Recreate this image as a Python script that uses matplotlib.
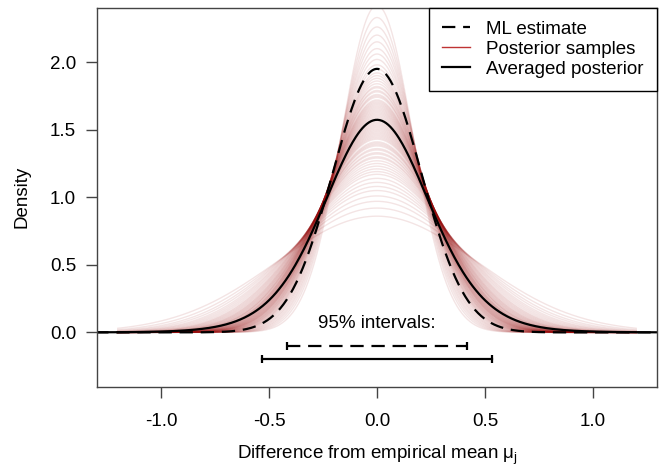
import numpy as np
import matplotlib
matplotlib.use('Agg')
import matplotlib.pyplot as plt

"""Posterior samples of a density around the empirical mean,
compared with the ML estimate and the averaged posterior"""

# peak heights of the posterior sample densities
sample_peaks = [0.86, 0.92, 0.97, 1.01, 1.05, 1.08, 1.11, 1.14, 1.17, 1.19,
                1.21, 1.23, 1.25, 1.27, 1.29, 1.30, 1.32, 1.33, 1.35, 1.36,
                1.38, 1.39, 1.40, 1.41, 1.43, 1.44, 1.45, 1.46, 1.47, 1.48,
                1.49, 1.50, 1.51, 1.52, 1.53, 1.54, 1.55, 1.56, 1.57, 1.58,
                1.59, 1.60, 1.61, 1.62, 1.63, 1.64, 1.65, 1.66, 1.67, 1.68,
                1.69, 1.70, 1.71, 1.72, 1.74, 1.75, 1.76, 1.78, 1.79, 1.81,
                1.82, 1.84, 1.86, 1.88, 1.90, 1.92, 1.95, 1.98, 2.02, 2.06,
                2.10, 2.15, 2.20, 2.26, 2.33, 2.42]
ml_peak = 1.95

# 95% intervals
ml_interval = [-0.415, 0.415]
post_interval = [-0.53, 0.53]

x_ticks = [-1.0, -0.5, 0.0, 0.5, 1.0]
y_ticks = [0.0, 0.5, 1.0, 1.5, 2.0]

plt.rcParams['font.family'] = ['Liberation Sans', 'DejaVu Sans']
FS = 13.5


# normal density with given peak height
def peak_density(x, peak):
    sd = 1 / (peak * np.sqrt(2 * np.pi))
    return peak * np.exp(-0.5 * (x / sd) ** 2)


fig = plt.figure(figsize=(6.62, 4.70), dpi=100)
ax = fig.add_axes([0.1465, 0.1766, 0.846, 0.8074])

xs = np.linspace(-1.2, 1.2, 400)
xw = np.linspace(-1.5, 1.5, 600)

for p in sample_peaks:
    ax.plot(xs, peak_density(xs, p), color=(0.6, 0.05, 0.05), alpha=0.11, lw=1.0)

avg = np.mean([peak_density(xw, p) for p in sample_peaks], axis=0)
ax.plot(xw, avg, color='black', lw=1.6)
ml_line, = ax.plot(xw, peak_density(xw, ml_peak), color='black', lw=1.6)
ml_line.set_dashes([6, 3.5])

# intervals
ml_iv, = ax.plot(ml_interval, [-0.1, -0.1], color='black', lw=1.6)
ml_iv.set_dashes([6, 3.5])
ax.plot(ml_interval, [-0.1, -0.1], ls='none', marker='|', ms=6, mew=1.6, color='black')
ax.plot(post_interval, [-0.2, -0.2], color='black', lw=1.6, marker='|', ms=6, mew=1.6)
ax.text(0, 0.065, '95% intervals:', ha='center', va='center', fontsize=FS)

ax.set_xlim(-1.296, 1.296)
ax.set_ylim(-0.404, 2.404)
ax.set_xticks(x_ticks)
ax.set_xticklabels(['-1.0', '-0.5', '0.0', '0.5', '1.0'])
ax.set_yticks(y_ticks)
ax.set_yticklabels(['0.0', '0.5', '1.0', '1.5', '2.0'])
ax.tick_params(direction='out', length=8, width=1, color='#444444', labelsize=FS)
ax.tick_params(axis='x', pad=11)
ax.tick_params(axis='y', pad=7)
for s in ax.spines.values():
    s.set_color('#444444')
    s.set_linewidth(1)

ax.set_xlabel(r'Difference from empirical mean $\mathregular{\mu_j}$', fontsize=FS, labelpad=10)
ax.set_ylabel('Density', fontsize=FS, labelpad=14)

h1, = ax.plot([], [], color='black', lw=1.6)
h1.set_dashes([6, 3.5])
h2, = ax.plot([], [], color=(0.75, 0.2, 0.2), lw=1.0)
h3, = ax.plot([], [], color='black', lw=1.6)
leg = ax.legend([h1, h2, h3], ['ML estimate', 'Posterior samples', 'Averaged posterior'],
                loc='upper right', borderaxespad=0, fancybox=False, edgecolor='black',
                framealpha=1, fontsize=FS, handlelength=1.5, handletextpad=0.85,
                labelspacing=0.15, borderpad=0.7)
leg.get_frame().set_linewidth(1)

fig.savefig('out.png', dpi=100)
